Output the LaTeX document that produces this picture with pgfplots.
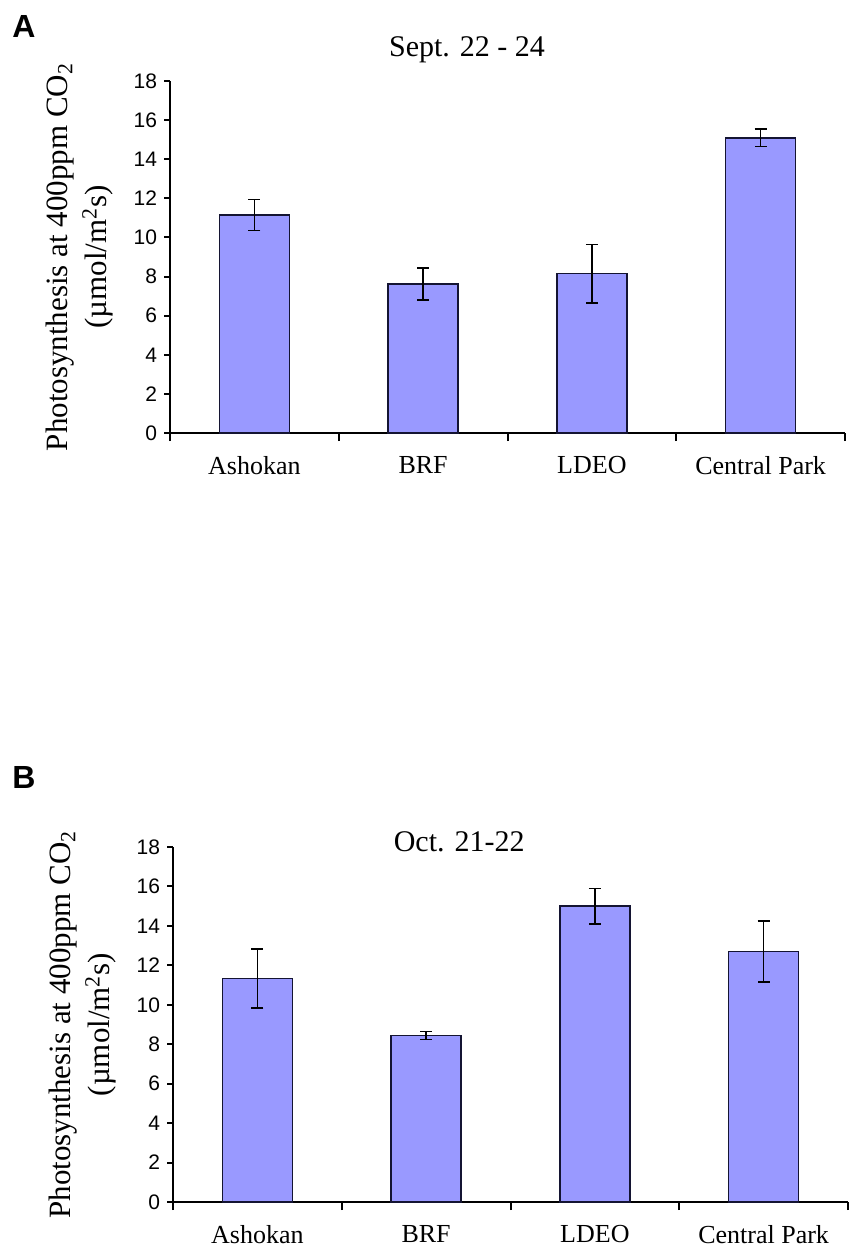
\documentclass[border=0pt]{standalone}
\usepackage{fontspec}
\setmainfont{Liberation Serif}
\setsansfont{Liberation Sans}
\usepackage{pgfplots}
\pgfplotsset{compat=1.18}
\definecolor{barfill}{RGB}{153,153,255}
\definecolor{baredge}{RGB}{20,20,50}
\pgfplotsset{
  panel/.style={
    scale only axis,
    width=337.5pt,
    xmin=-0.5, xmax=3.5,
    ymin=0, ymax=18,
    axis x line=bottom, axis y line=left,
    axis line style={-, line width=1pt, black},
    tick align=outside,
    xtick={0,1,2,3},
    xticklabels={Ashokan,BRF,LDEO,Central Park},
    major x tick style={draw=none},
    minor xtick={-0.5,0.5,1.5,2.5,3.5},
    minor tick length=4pt,
    minor x tick style={line width=1pt, black},
    ytick={0,2,...,18},
    major tick length=3pt,
    major y tick style={line width=1pt, black},
    xticklabel style={font=\fontsize{13}{15}\selectfont, yshift=-5pt},
    yticklabel style={font=\fontsize{10.5}{12}\selectfont\sffamily},
    /pgf/number format/assume math mode=true,
    ylabel={Photosynthesis at 400ppm CO\textsubscript{2}\\(µmol/m\textsuperscript{2}s)},
    ylabel style={font=\fontsize{15.5}{19.5}\selectfont, align=center, anchor=center},
    title style={font=\fontsize{15}{17}\selectfont, anchor=center},
    clip=false,
  },
  bars/.style={
    ybar, bar width=35pt, fill=barfill, draw=baredge, line width=0.8pt,
    error bars/.cd, y dir=both, y explicit,
    error bar style={line width=0.75pt, black},
    error mark options={rotate=90, mark size=3pt, line width=0.75pt, black},
  },
}
\begin{document}
\begin{tikzpicture}
\path[use as bounding box] (0pt,0pt) rectangle (424pt,-623.5pt);
\node[font=\fontsize{16}{18}\selectfont\sffamily\bfseries] at (12pt,-13pt) {A};
\node[font=\fontsize{16}{18}\selectfont\sffamily\bfseries] at (12pt,-388.5pt) {B};
\begin{axis}[panel, height=176pt, at={(85pt,-216.5pt)}, anchor=south west,
  ylabel style={at={(axis description cs:-0.1333,0.5)}},
  title={Sept. 22 - 24}, title style={at={(axis description cs:0.44,1.054)}}]
\addplot[bars] coordinates {
  (0,11.15) +- (0,0.80)
  (1,7.62) +- (0,0.83)
  (2,8.15) +- (0,1.5)
  (3,15.1) +- (0,0.45)
};
\end{axis}
\begin{axis}[panel, height=177.5pt, at={(86.5pt,-601pt)}, anchor=south west,
  ylabel style={at={(axis description cs:-0.1333,0.5)}},
  title={Oct. 21-22}, title style={at={(axis description cs:0.424,0.98)}}]
\addplot[bars] coordinates {
  (0,11.33) +- (0,1.5)
  (1,8.45) +- (0,0.2)
  (2,15.0) +- (0,0.9)
  (3,12.7) +- (0,1.55)
};
\end{axis}
\end{tikzpicture}
\end{document}
